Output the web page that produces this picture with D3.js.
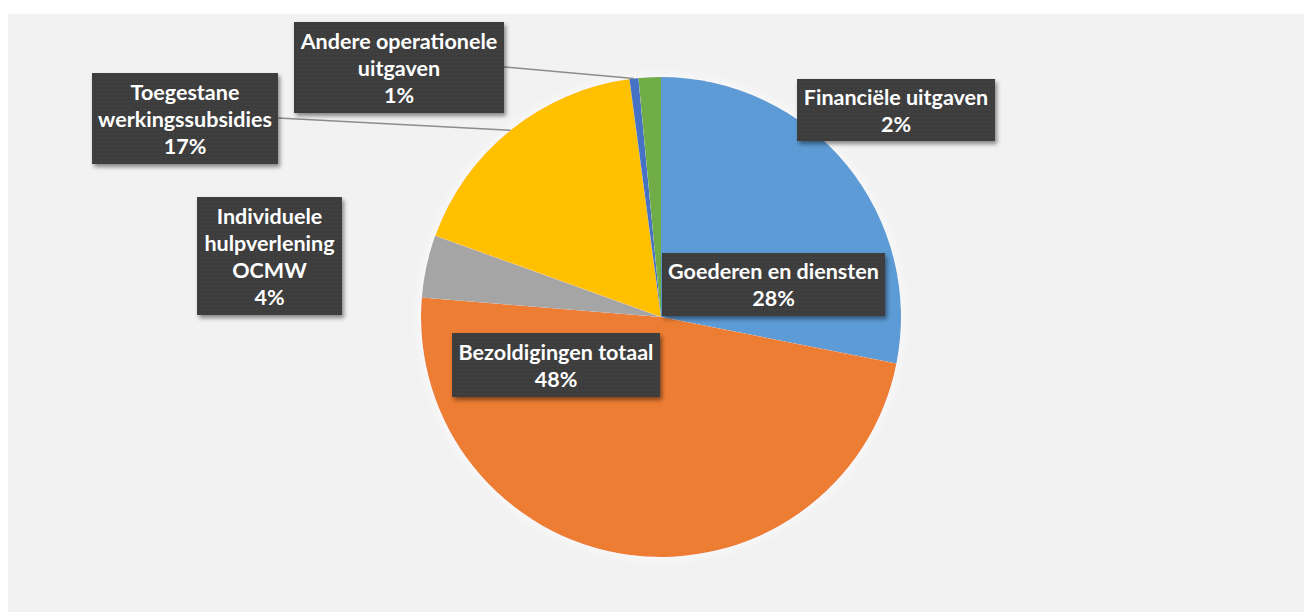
<!DOCTYPE html>
<html>
<head>
<meta charset="utf-8">
<script src="https://cdn.jsdelivr.net/npm/d3@7"></script>
<style>
  html, body { margin: 0; padding: 0; background: #ffffff; }
  svg { display: block; }
</style>
</head>
<body>
<svg id="chart" width="1304" height="612"></svg>
<script>
// ---- data ----
const categories = [
  "Goederen en diensten",
  "Bezoldigingen totaal",
  "Individuele hulpverlening OCMW",
  "Toegestane werkingssubsidies",
  "Andere operationele uitgaven",
  "Financiële uitgaven"
];
const values = [28.1, 48.2, 4.2, 17.4, 0.6, 1.5];
const percentLabels = ["28%", "48%", "4%", "17%", "1%", "2%"];
const labelLines = [
  ["Goederen en diensten"],
  ["Bezoldigingen totaal"],
  ["Individuele", "hulpverlening", "OCMW"],
  ["Toegestane", "werkingssubsidies"],
  ["Andere operationele", "uitgaven"],
  ["Financiële uitgaven"]
];
const colors = ["#5B9BD5", "#ED7D31", "#A5A5A5", "#FFC000", "#4472C4", "#70AD47"];

// ---- layout (label boxes: x, y, w, h; leader: side of box the line leaves from) ----
const boxes = [
  { x: 662, y: 253, w: 223, h: 63, leader: null },
  { x: 452, y: 333, w: 208, h: 64, leader: null },
  { x: 197, y: 197, w: 145, h: 118, leader: null },
  { x: 92,  y: 73,  w: 186, h: 91, leader: { x: 278, y: 118 } },
  { x: 294, y: 22,  w: 210, h: 91, leader: { x: 504, y: 67 } },
  { x: 797, y: 79,  w: 198, h: 62, leader: null }
];

const W = 1304, H = 612;
const cx = 661, cy = 317, R = 240;
const svg = d3.select("#chart");

const defs = svg.append("defs");
const pat = defs.append("pattern").attr("id", "dots")
  .attr("width", 4).attr("height", 4).attr("patternUnits", "userSpaceOnUse");
pat.append("rect").attr("width", 4).attr("height", 4).attr("fill", "#3C3C3C");
pat.append("rect").attr("x", 1).attr("y", 1).attr("width", 1).attr("height", 1).attr("fill", "#4C4C4C");

const sh = defs.append("filter").attr("id", "shadow")
  .attr("x", "-20%").attr("y", "-20%").attr("width", "140%").attr("height", "150%");
sh.append("feDropShadow").attr("dx", 2).attr("dy", 3).attr("stdDeviation", 2)
  .attr("flood-color", "#000").attr("flood-opacity", 0.45);

const glow = defs.append("filter").attr("id", "glow")
  .attr("x", "-10%").attr("y", "-10%").attr("width", "120%").attr("height", "120%");
glow.append("feDropShadow").attr("dx", 0).attr("dy", 0).attr("stdDeviation", 6)
  .attr("flood-color", "#ffffff").attr("flood-opacity", 0.9);

// panel background
svg.append("rect").attr("x", 8).attr("y", 14).attr("width", W - 8).attr("height", H - 14)
  .attr("fill", "#F2F2F2");

const pie = d3.pie().sort(null).value(d => d)(values);
const arc = d3.arc().innerRadius(0).outerRadius(R);
const edgeArc = d3.arc().innerRadius(R).outerRadius(R);

const g = svg.append("g").attr("transform", `translate(${cx},${cy})`);
g.append("g").attr("filter", "url(#glow)")
  .selectAll("path").data(pie).join("path")
  .attr("d", arc).attr("fill", (d, i) => colors[i]);

// leader lines
pie.forEach((d, i) => {
  const b = boxes[i];
  if (!b.leader) return;
  const mid = (d.startAngle + d.endAngle) / 2;
  const px = cx + R * Math.sin(mid), py = cy - R * Math.cos(mid);
  svg.append("line")
    .attr("x1", b.leader.x).attr("y1", b.leader.y)
    .attr("x2", px).attr("y2", py)
    .attr("stroke", "#8C8C8C").attr("stroke-width", 1.5);
});

// labels
const fontFamily = "Lato, 'Open Sans', sans-serif";
// fit font size so that a reference label matches its width in the original
const probe = svg.append("text").attr("font-family", fontFamily).attr("font-weight", 700)
  .attr("font-size", 20).text("Goederen en diensten");
const pw = probe.node().getComputedTextLength();
probe.remove();
const fs = 20 * 211 / pw;

const lg = svg.append("g");
boxes.forEach((b, i) => {
  const grp = lg.append("g");
  grp.append("rect").attr("x", b.x).attr("y", b.y).attr("width", b.w).attr("height", b.h)
    .attr("fill", "url(#dots)").attr("filter", "url(#shadow)");
  const lines = labelLines[i].concat([percentLabels[i]]);
  const lh = 27;
  const top = b.y + b.h / 2 - (lines.length - 1) * lh / 2;
  lines.forEach((t, k) => {
    grp.append("text")
      .attr("x", b.x + b.w / 2).attr("y", top + k * lh)
      .attr("text-anchor", "middle").attr("dominant-baseline", "central")
      .attr("font-family", fontFamily).attr("font-weight", 700)
      .attr("font-size", fs).attr("fill", "#FFFFFF")
      .text(t);
  });
});
</script>
</body>
</html>
